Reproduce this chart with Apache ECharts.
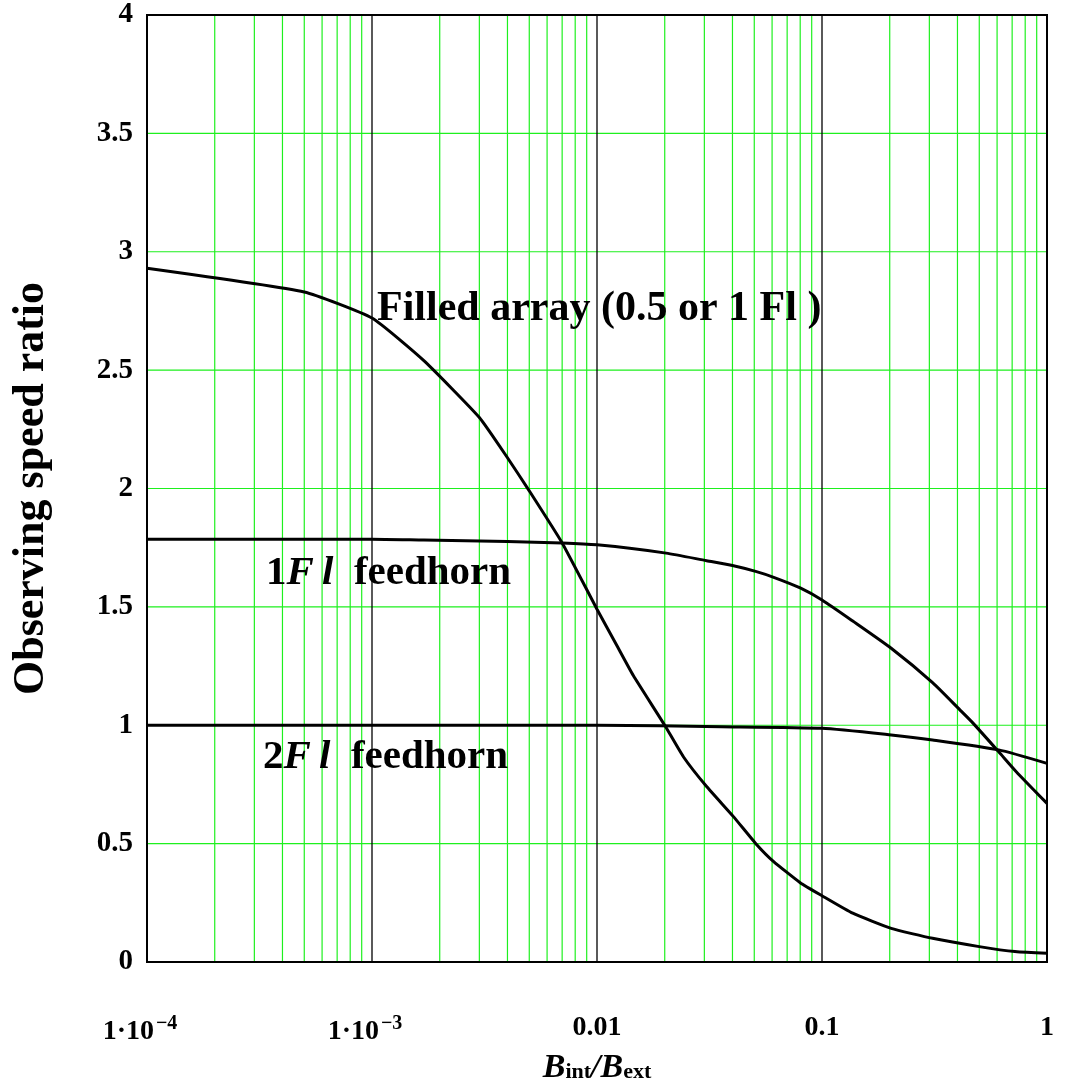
<!DOCTYPE html>
<html>
<head>
<meta charset="utf-8">
<script src="https://cdn.jsdelivr.net/npm/echarts@6/dist/echarts.min.js"></script>
<style>
html,body{margin:0;padding:0;background:#fff;}
#chart{width:1066px;height:1080px;}
</style>
</head>
<body>
<div id="chart"></div>
<script>
// ---- Data ----
var xTickValues = [1e-4, 1e-3, 0.01, 0.1, 1];
var yTickLabels = ['0', '0.5', '1', '1.5', '2', '2.5', '3', '3.5', '4'];

var filledArray = [
  [1e-4, 2.93], [5e-4, 2.83], [1e-3, 2.72], [1.7e-3, 2.54], [3e-3, 2.30],
  [4e-3, 2.13], [5e-3, 1.99], [7e-3, 1.77], [0.01, 1.49], [0.0122, 1.34],
  [0.0145, 1.21], [0.02, 1.00], [0.0242, 0.867], [0.0307, 0.741], [0.0404, 0.614],
  [0.0507, 0.501], [0.0608, 0.425], [0.08, 0.335], [0.1, 0.280], [0.137, 0.206],
  [0.203, 0.142], [0.31, 0.100], [0.5, 0.065], [0.72, 0.044], [1, 0.037]
];
var feedhorn1 = [
  [1e-4, 1.786], [1e-3, 1.786], [1.7e-3, 1.782], [4e-3, 1.776], [7e-3, 1.77],
  [0.01, 1.762], [0.0203, 1.727], [0.0307, 1.695], [0.04, 1.675],
  [0.0507, 1.650], [0.061, 1.625], [0.08, 1.580], [0.1, 1.529], [0.137, 1.440],
  [0.203, 1.325], [0.31, 1.180], [0.41, 1.065], [0.47, 1.008], [0.61, 0.888],
  [0.73, 0.804], [1, 0.670]
];
var feedhorn2 = [
  [1e-4, 1.0], [0.01, 1.0], [0.0358, 0.994], [0.1, 0.987], [0.203, 0.959],
  [0.31, 0.938], [0.61, 0.896], [1, 0.839]
];

// grid positions
var decadeLines = [1e-3, 1e-2, 1e-1];
var minorLines = [];
[1e-4, 1e-3, 1e-2, 1e-1].forEach(function (d) {
  for (var k = 2; k <= 9; k++) minorLines.push(k * d);
});
var horizontalLines = [0.5, 1, 1.5, 2, 2.5, 3, 3.5];
function verticalSegments(vals) {
  var out = [];
  vals.forEach(function (v) { out.push([v, 0], [v, 4], [v, '-']); });
  return out;
}
function horizontalSegments(vals) {
  var out = [];
  vals.forEach(function (v) { out.push([1e-4, v], [1, v], [1, '-']); });
  return out;
}

var FONT = '"Liberation Serif","Times New Roman",Times,serif';
var GREEN = '#1ef01e';
var chart = echarts.init(document.getElementById('chart'), null, { renderer: 'canvas' });

var option = {
  animation: false,
  backgroundColor: '#fff',
  grid: {
    left: 147, right: 19, top: 15, bottom: 118,
    containLabel: false, outerBoundsMode: 'none',
    show: true, borderColor: '#000', borderWidth: 2, backgroundColor: 'transparent', z: 10
  },
  xAxis: {
    type: 'log', logBase: 10, min: 1e-4, max: 1,
    axisLine: { show: false },
    axisTick: { show: false },
    splitLine: { show: false },
    minorSplitLine: { show: false },
    axisLabel: {
      margin: 52,
      formatter: function (v) {
        var e = Math.round(Math.log10(v));
        if (e <= -3) return '{a|1·10}{s|\u2212' + (-e) + '}';
        if (e === -2) return '{a|0.01}';
        if (e === -1) return '{a|0.1}';
        return '{a|1}';
      },
      rich: {
        a: { fontFamily: FONT, fontWeight: 'bold', fontSize: 28, color: '#000' },
        s: { fontFamily: FONT, fontWeight: 'bold', fontSize: 20, color: '#000', padding: [0, 14, 16, 2] }
      }
    },
    name: '{b|B}{sub|int}{b|/B}{sub|ext}',
    nameLocation: 'middle', nameGap: 84,
    nameTextStyle: {
      rich: {
        b: { fontFamily: FONT, fontWeight: 'bold', fontStyle: 'italic', fontSize: 34, color: '#000' },
        sub: { fontFamily: FONT, fontWeight: 'bold', fontSize: 22, color: '#000', padding: [9, 0, 0, 0] }
      }
    }
  },
  yAxis: {
    type: 'value', min: 0, max: 4, interval: 0.5,
    axisLine: { show: false },
    axisTick: { show: false },
    splitLine: { show: false },
    axisLabel: {
      margin: 14,
      fontFamily: FONT, fontWeight: 'bold', fontSize: 29, color: '#000',
      formatter: function (v) { return yTickLabels[Math.round(v * 2)]; }
    },
    name: 'Observing speed ratio',
    nameLocation: 'middle', nameRotate: 90, nameGap: 93,
    nameTextStyle: { fontFamily: FONT, fontWeight: 'bold', fontSize: 44, color: '#000' }
  },
  series: [
    {
      name: 'minor grid', type: 'line', data: verticalSegments(minorLines), z: 1, silent: true,
      showSymbol: false, connectNulls: false, lineStyle: { color: GREEN, width: 1.2 }
    },
    {
      name: 'horizontal grid', type: 'line', data: horizontalSegments(horizontalLines), z: 1, silent: true,
      showSymbol: false, connectNulls: false, lineStyle: { color: GREEN, width: 1.2 }
    },
    {
      name: 'decade grid', type: 'line', data: verticalSegments(decadeLines), z: 2, silent: true,
      showSymbol: false, connectNulls: false, lineStyle: { color: '#000', width: 1.3 }
    },
    { name: 'Filled array', type: 'line', data: filledArray, showSymbol: false, smooth: 0.15, z: 5, lineStyle: { color: '#000', width: 3 } },
    { name: '1Fl feedhorn', type: 'line', data: feedhorn1, showSymbol: false, smooth: 0.2, z: 5, lineStyle: { color: '#000', width: 3 } },
    { name: '2Fl feedhorn', type: 'line', data: feedhorn2, showSymbol: false, smooth: 0.2, z: 5, lineStyle: { color: '#000', width: 3 } }
  ],
  graphic: [
    {
      type: 'text', z: 20,
      style: {
        x: 377, y: 309, text: '{n|Filled array (0.5 or 1 Fl )}', verticalAlign: 'middle', align: 'left',
        rich: { n: { fontFamily: FONT, fontWeight: 'bold', fontSize: 42, fill: '#000' } }
      }
    },
    {
      type: 'text', z: 20,
      style: {
        x: 266, y: 573, text: '{n|1}{i|F\u2009l}{n|  feedhorn}', verticalAlign: 'middle', align: 'left',
        rich: {
          n: { fontFamily: FONT, fontWeight: 'bold', fontSize: 41, fill: '#000' },
          i: { fontFamily: FONT, fontWeight: 'bold', fontStyle: 'italic', fontSize: 41, fill: '#000' }
        }
      }
    },
    {
      type: 'text', z: 20,
      style: {
        x: 263, y: 757, text: '{n|2}{i|F\u2009l}{n|  feedhorn}', verticalAlign: 'middle', align: 'left',
        rich: {
          n: { fontFamily: FONT, fontWeight: 'bold', fontSize: 41, fill: '#000' },
          i: { fontFamily: FONT, fontWeight: 'bold', fontStyle: 'italic', fontSize: 41, fill: '#000' }
        }
      }
    }
  ]
};
chart.setOption(option);
</script>
</body>
</html>
